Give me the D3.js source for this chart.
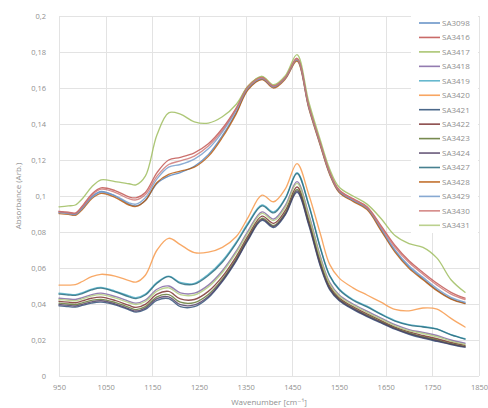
<!DOCTYPE html>
<html>
<head>
<meta charset="utf-8">
<script src="https://cdn.jsdelivr.net/npm/d3@7"></script>
<style>
  html, body { margin: 0; padding: 0; background: #fff; }
  svg { display: block; }
  text { font-family: "Open Sans", "DejaVu Sans", sans-serif; }
</style>
</head>
<body>
<svg id="chart" width="488" height="408"></svg>
<script>
// ---------- DATA ----------
const wavenumbers = [950, 970, 985, 1000, 1020, 1040, 1070, 1100, 1115, 1135, 1160, 1185, 1210, 1240, 1270, 1300, 1330, 1355, 1385, 1410, 1435, 1460, 1485, 1510, 1530, 1550, 1580, 1610, 1640, 1670, 1700, 1730, 1760, 1790, 1820];

const seriesNames = ["SA3098", "SA3416", "SA3417", "SA3418", "SA3419", "SA3420", "SA3421", "SA3422", "SA3423", "SA3424", "SA3427", "SA3428", "SA3429", "SA3430", "SA3431"];

const seriesColors = ["#4F81BD", "#C0504D", "#9BBB59", "#8064A2", "#4BACC6", "#F79646", "#2C4D75", "#772C2A", "#5F7530", "#4D3B62", "#276A7C", "#B65708", "#729ACA", "#CD7371", "#AFC97A"];

const sa3098 = [.0910, .0905, .0900, .0935, .0995, .1025, .1000, .0955, .0945, .0975, .1070, .1110, .1130, .1165, .1230, .1335, .1465, .1595, .1650, .1605, .1655, .1755, .1495, .1285, .1125, .1025, .0975, .0930, .0815, .0695, .0605, .0540, .0478, .0430, .0405];
const sa3416 = [.0915, .0910, .0905, .0945, .1010, .1045, .1030, .0995, .0990, .1020, .1130, .1200, .1215, .1240, .1290, .1375, .1490, .1610, .1660, .1612, .1660, .1765, .1505, .1295, .1135, .1035, .0985, .0940, .0835, .0725, .0640, .0575, .0515, .0465, .0432];
const sa3417 = [.0940, .0945, .0950, .0985, .1050, .1090, .1080, .1068, .1062, .1110, .1340, .1462, .1455, .1412, .1405, .1440, .1510, .1610, .1665, .1618, .1668, .1785, .1525, .1310, .1150, .1050, .1000, .0955, .0875, .0780, .0735, .0715, .0655, .0535, .0465];
const sa3418 = [.0432, .0428, .0425, .0435, .0452, .0460, .0442, .0415, .0405, .0422, .0482, .0500, .0462, .0460, .0505, .0585, .0695, .0805, .0912, .0872, .0948, .1080, .0900, .0665, .0520, .0452, .0400, .0360, .0322, .0285, .0258, .0242, .0225, .0200, .0182];
const sa3419 = [.0460, .0455, .0452, .0463, .0483, .0492, .0472, .0445, .0435, .0455, .0520, .0555, .0520, .0515, .0565, .0640, .0745, .0850, .0950, .0912, .0990, .1130, .0955, .0715, .0560, .0485, .0425, .0388, .0345, .0308, .0285, .0275, .0262, .0230, .0207];
const sa3420 = [.0505, .0505, .0508, .0525, .0552, .0565, .0555, .0530, .0522, .0560, .0700, .0765, .0730, .0685, .0688, .0715, .0775, .0880, .1005, .0968, .1040, .1180, .1010, .0790, .0620, .0545, .0490, .0450, .0410, .0370, .0362, .0378, .0372, .0320, .0272];
const sa3421 = [.0390, .0385, .0383, .0392, .0405, .0410, .0395, .0368, .0355, .0370, .0420, .0430, .0385, .0385, .0435, .0525, .0640, .0755, .0865, .0825, .0895, .1020, .0840, .0610, .0480, .0420, .0370, .0330, .0295, .0260, .0232, .0210, .0192, .0175, .0160];
const sa3422 = [.0415, .0410, .0407, .0417, .0432, .0438, .0420, .0392, .0381, .0398, .0455, .0470, .0428, .0425, .0470, .0552, .0665, .0778, .0888, .0848, .0920, .1050, .0870, .0638, .0500, .0435, .0385, .0345, .0308, .0272, .0245, .0225, .0207, .0186, .0170];
const sa3423 = [.0405, .0400, .0397, .0406, .0420, .0426, .0409, .0381, .0369, .0385, .0440, .0452, .0410, .0408, .0453, .0538, .0652, .0766, .0876, .0836, .0907, .1036, .0856, .0625, .0490, .0428, .0378, .0338, .0302, .0266, .0239, .0218, .0200, .0180, .0165];
const sa3424 = [.0397, .0392, .0389, .0398, .0412, .0418, .0401, .0373, .0361, .0377, .0430, .0440, .0396, .0395, .0442, .0530, .0645, .0760, .0870, .0830, .0900, .1028, .0848, .0617, .0485, .0424, .0374, .0334, .0298, .0263, .0235, .0214, .0196, .0177, .0162];
const sa3427 = [.0455, .0450, .0448, .0458, .0478, .0488, .0468, .0440, .0430, .0450, .0515, .0552, .0515, .0510, .0558, .0632, .0738, .0843, .0945, .0906, .0985, .1125, .0950, .0710, .0556, .0481, .0421, .0384, .0342, .0305, .0283, .0272, .0260, .0228, .0205];
const sa3428 = [.0902, .0898, .0893, .0925, .0985, .1015, .0992, .0950, .0942, .0975, .1075, .1120, .1138, .1160, .1220, .1325, .1458, .1590, .1647, .1600, .1650, .1750, .1490, .1280, .1120, .1020, .0970, .0925, .0808, .0688, .0598, .0535, .0474, .0427, .0402];
const sa3429 = [.0908, .0903, .0898, .0932, .0992, .1022, .1002, .0962, .0955, .0990, .1095, .1160, .1175, .1205, .1262, .1355, .1478, .1600, .1652, .1607, .1656, .1758, .1498, .1288, .1128, .1028, .0978, .0933, .0820, .0700, .0612, .0548, .0486, .0437, .0410];
const sa3430 = [.0912, .0907, .0903, .0940, .1003, .1038, .1020, .0985, .0978, .1008, .1110, .1175, .1195, .1222, .1278, .1365, .1485, .1605, .1657, .1610, .1658, .1762, .1502, .1292, .1132, .1032, .0982, .0937, .0828, .0715, .0630, .0565, .0505, .0455, .0425];
const sa3431 = [.0425, .0421, .0418, .0428, .0445, .0452, .0434, .0407, .0397, .0414, .0472, .0490, .0452, .0450, .0495, .0575, .0685, .0795, .0903, .0863, .0938, .1070, .0890, .0655, .0512, .0445, .0394, .0354, .0316, .0279, .0252, .0236, .0218, .0194, .0176];

const xTicks = [950, 1050, 1150, 1250, 1350, 1450, 1550, 1650, 1750, 1850];
const yTicks = [0, 0.02, 0.04, 0.06, 0.08, 0.1, 0.12, 0.14, 0.16, 0.18, 0.2];
const xTitle = "Wavenumber [cm\u207B\u00B9]";
const yTitle = "Absorbance (Arb.)";

const seriesValues = [sa3098, sa3416, sa3417, sa3418, sa3419, sa3420, sa3421, sa3422, sa3423, sa3424, sa3427, sa3428, sa3429, sa3430, sa3431];
const series = seriesNames.map((name, i) => ({
  name, color: seriesColors[i],
  points: wavenumbers.map((w, j) => [w, seriesValues[i][j]])
}));

// ---------- LAYOUT ----------
const svg = d3.select("#chart");
const pLeft = 59, pRight = 479, pTop = 16, pBottom = 376;
const x = d3.scaleLinear().domain([950, 1850]).range([pLeft, pRight]);
const y = d3.scaleLinear().domain([0, 0.2]).range([pBottom, pTop]);
const fmt = v => (v === 0 ? "0" : d3.format("~g")(v).replace(".", ","));
const gridColor = "#e3e3e3";
const textColor = "#8f8f8f";

// grid
svg.append("g").selectAll("line").data(yTicks).join("line")
  .attr("x1", pLeft).attr("x2", pRight)
  .attr("y1", d => Math.round(y(d)) + 0.5).attr("y2", d => Math.round(y(d)) + 0.5)
  .attr("stroke", gridColor).attr("stroke-width", 1);
svg.append("g").selectAll("line").data(xTicks).join("line")
  .attr("x1", d => Math.round(x(d)) + 0.5).attr("x2", d => Math.round(x(d)) + 0.5)
  .attr("y1", pTop).attr("y2", pBottom)
  .attr("stroke", gridColor).attr("stroke-width", 1);

// axes (labels only, via d3 axes)
const yAxis = d3.axisLeft(y).tickValues(yTicks).tickFormat(fmt).tickSize(0).tickPadding(0);
svg.append("g").attr("transform", `translate(${pLeft - 13},0)`).call(yAxis)
  .call(g => g.select(".domain").remove())
  .call(g => g.selectAll("text").attr("fill", textColor).attr("font-size", "7.5px")
     .attr("font-family", "'Open Sans', sans-serif"));

const xAxis = d3.axisBottom(x).tickValues(xTicks).tickFormat(d => d).tickSize(0).tickPadding(0);
svg.append("g").attr("transform", `translate(0,${pBottom + 9})`).call(xAxis)
  .call(g => g.select(".domain").remove())
  .call(g => g.selectAll("text").attr("fill", textColor).attr("font-size", "7.5px")
     .attr("font-family", "'Open Sans', sans-serif"));

// titles
svg.append("text").attr("x", (pLeft + pRight) / 2).attr("y", 405)
  .attr("text-anchor", "middle").attr("fill", textColor).attr("font-size", "8px")
  .text(xTitle);
svg.append("text").attr("transform", `translate(21,${(pTop + pBottom) / 2}) rotate(-90)`)
  .attr("text-anchor", "middle").attr("fill", textColor).attr("font-size", "8px")
  .text(yTitle);

// lines
const line = d3.line().x(d => x(d[0])).y(d => y(d[1])).curve(d3.curveCatmullRom.alpha(0.5));
svg.append("g").selectAll("path").data(series).join("path")
  .attr("d", d => line(d.points))
  .attr("fill", "none").attr("stroke", d => d.color)
  .attr("stroke-width", 1.35).attr("stroke-linejoin", "round").attr("stroke-linecap", "round")
  .attr("stroke-opacity", 0.82);

// legend
const lg = svg.append("g");
lg.append("rect").attr("x", 411).attr("y", 14).attr("width", 67).attr("height", 219).attr("fill", "#fff");
const item = lg.selectAll("g").data(series).join("g")
  .attr("transform", (d, i) => `translate(0,${23 + i * 14.45})`);
item.append("line").attr("x1", 419).attr("x2", 440).attr("y1", 0).attr("y2", 0)
  .attr("stroke", d => d.color).attr("stroke-width", 1.6).attr("stroke-opacity", 0.85);
item.append("text").attr("x", 442).attr("y", 0).attr("dy", "0.35em")
  .attr("fill", textColor).attr("font-size", "8px").text(d => d.name);
</script>
</body>
</html>
